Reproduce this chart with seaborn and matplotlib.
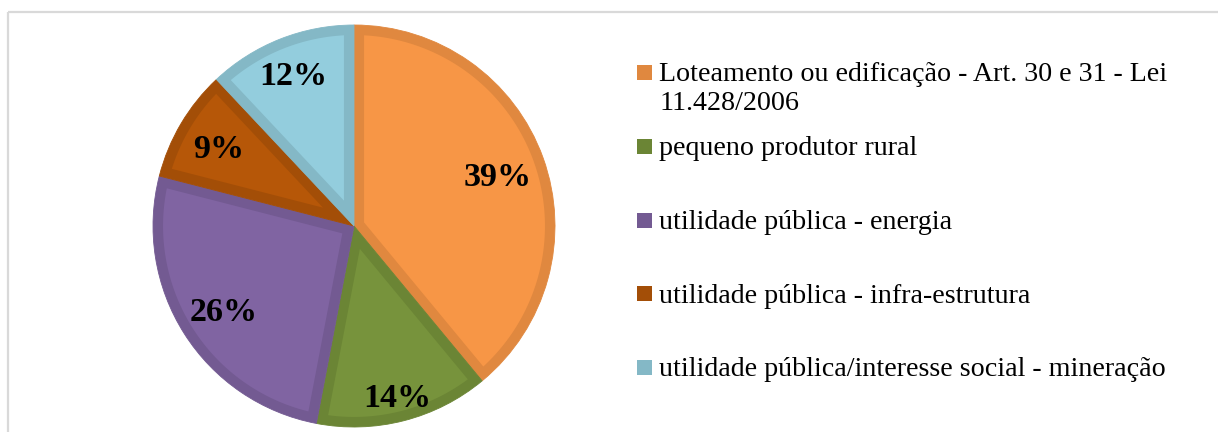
import matplotlib
matplotlib.use("Agg")
import matplotlib.pyplot as plt
from matplotlib.patches import Rectangle, Polygon
from matplotlib.transforms import ScaledTranslation
import numpy as np
import seaborn as sns

# Data
categories = [
    "Loteamento ou edificação - Art. 30 e 31 - Lei\n11.428/2006",
    "pequeno produtor rural",
    "utilidade pública - energia",
    "utilidade pública - infra-estrutura",
    "utilidade pública/interesse social - mineração",
]
shares = [39, 14, 26, 9, 12]

# Styling
fill_colors = ["#F79646", "#77933C", "#8064A2", "#B65708", "#93CDDD"]
edge_colors = ["#E0883F", "#6B8535", "#735A92", "#A34E07", "#84B8C6"]
label_radius = [0.76, 0.87, 0.77, 0.78, 0.82]
border = 0.05  # inner border width, in pie radii

sns.set_theme(style="white")
plt.rcParams["font.family"] = ["Liberation Serif", "DejaVu Serif"]

W, H, DPI = 1218, 432, 100
fig = plt.figure(figsize=(W / DPI, H / DPI), dpi=DPI)
fig.patch.set_facecolor("white")

# Pie axes (square)
cx, cy, r = 354, 226, 201
ax = fig.add_axes([(cx - r) / W, (H - cy - r) / H, 2 * r / W, 2 * r / H])
wedges, _, autotexts = ax.pie(
    shares,
    colors=edge_colors,
    startangle=90,
    counterclock=False,
    autopct=lambda p: f"{p:.0f}%",
    pctdistance=0.8,
    textprops=dict(fontsize=24.5, fontweight="bold", color="black", zorder=5),
    wedgeprops=dict(linewidth=0.6),
)
for w, ec in zip(wedges, edge_colors):
    w.set_edgecolor(ec)


def inset_wedge(w, d):
    """Polygon of a wedge shrunk inward by d on every side."""
    t1, t2 = np.deg2rad(w.theta1), np.deg2rad(w.theta2)
    R = w.r
    half = (t2 - t1) / 2
    mid = t1 + half
    apex = (d / np.sin(half)) * np.array([np.cos(mid), np.sin(mid)])
    rho = R - d
    delta = np.arcsin(d / rho)
    phis = np.linspace(t1 + delta, t2 - delta, 200)
    arc = np.column_stack([rho * np.cos(phis), rho * np.sin(phis)])
    return np.vstack([apex, arc])


for w, fc in zip(wedges, fill_colors):
    ax.add_patch(Polygon(inset_wedge(w, border), closed=True, facecolor=fc,
                         edgecolor="none", zorder=2))

# Place percentage labels along each wedge's bisector
cum = np.cumsum([0] + shares[:-1])
for t, s, c, d in zip(autotexts, shares, cum, label_radius):
    ang = np.deg2rad(90 - (c + s / 2) / sum(shares) * 360)
    t.set_position((d * np.cos(ang), d * np.sin(ang)))
    t.set_ha("center")
    t.set_va("center_baseline")

ax.set_xlim(-1, 1)
ax.set_ylim(-1, 1)
ax.set_aspect("equal")
ax.axis("off")

# Legend drawn in pixel coordinates
lg = fig.add_axes([0, 0, 1, 1], zorder=-1)
lg.set_xlim(0, W)
lg.set_ylim(H, 0)
lg.axis("off")
base0, step = 79, 73.75
fs = 20.2
text_shift = lg.transData + ScaledTranslation(0, fs * 0.70 / 72 - 0.03, fig.dpi_scale_trans)
for i, (lab, ec) in enumerate(zip(categories, edge_colors)):
    yb = base0 + i * step
    lg.add_patch(Rectangle((637, yb - 14), 15, 15, facecolor=ec, edgecolor="none"))
    lg.text(659, yb, lab, fontsize=fs, color="black", ha="left", va="top",
            linespacing=1.2, transform=text_shift)

# Chart frame
lg.add_patch(Rectangle((7.5, 11.5), W + 20, H + 20, facecolor="none",
                       edgecolor="#D9D9D9", linewidth=1.6))

fig.savefig("out.png", dpi=DPI, facecolor="white")
